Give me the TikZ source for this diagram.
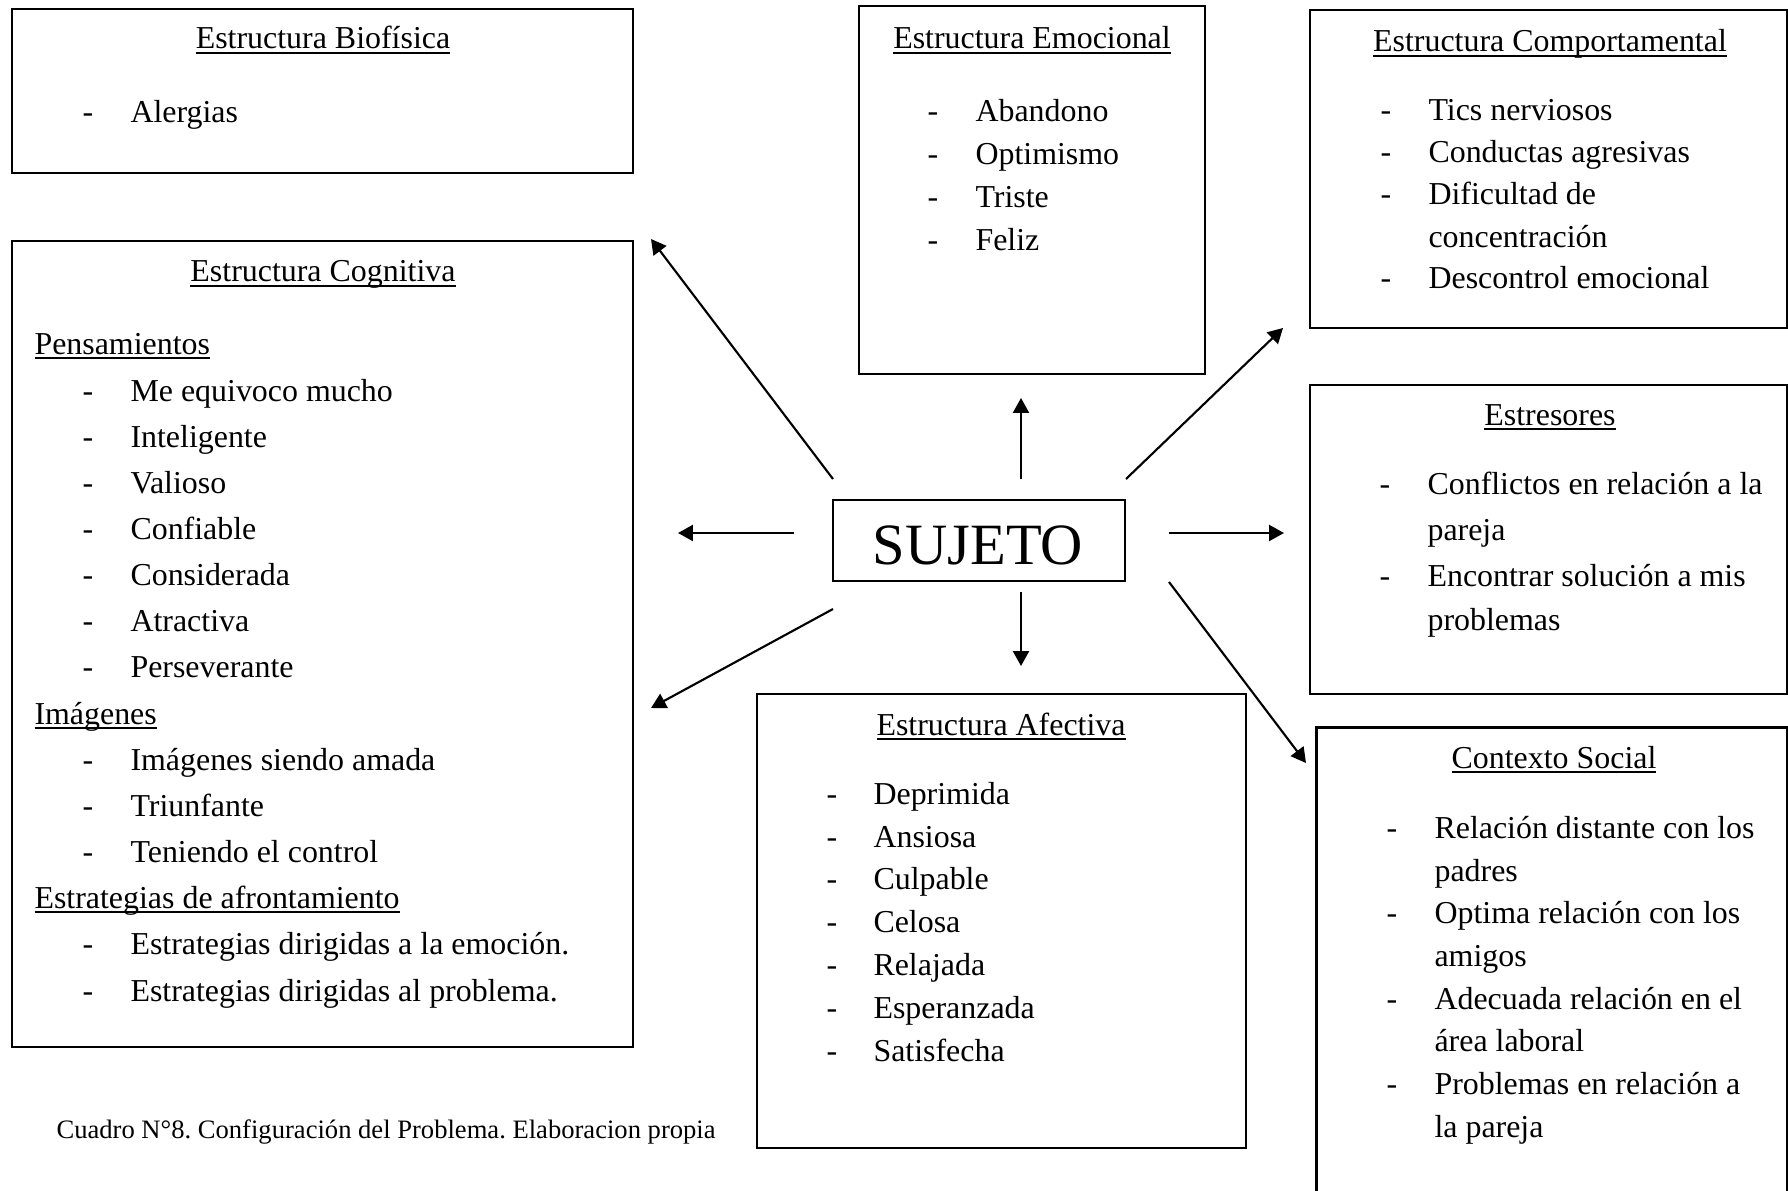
\documentclass[tikz,border=0pt]{standalone}
\usepackage{fontspec}
\setmainfont{Liberation Serif}
\usetikzlibrary{arrows.meta,fit}
\frenchspacing
\newcommand\myul[1]{\sbox0{#1}\rlap{\rule[-1.9pt]{\wd0}{0.6pt}}\usebox0}
\tikzset{
  box/.style={draw, line width=0.8pt, rectangle, inner sep=0pt},
  ghost/.style={rectangle, inner sep=0pt},
  head/.style={anchor=base, inner sep=0pt},
  itm/.style={anchor=base west, inner sep=0pt},
  arr/.style={-{Triangle[length=5.6pt,width=6pt]}, line width=0.8pt},
}
\begin{document}
\begin{tikzpicture}[x=0.376pt,y=-0.376pt,font=\fontsize{12}{14}\selectfont]
\useasboundingbox (0,0) rectangle (1788,1191);
\fill[white] (0,0) rectangle (1788,1191);

% ---------- boxes ----------
\node[box, fit={(12,9) (633,173)}] (bio) {};
\node[box, fit={(12,241) (633,1047)}] (cog) {};
\node[box, fit={(859,6) (1205,374)}] (emo) {};
\node[box, fit={(1310,10) (1787,328)}] (comp) {};
\node[box, fit={(1310,385) (1787,694)}] (estr) {};
\node[ghost, fit={(1317,728) (1787,1196)}] (ctx) {};
\draw[line width=0.8pt] (ctx.south west) -- (ctx.north west) -- (ctx.north east) -- (ctx.south east);
\node[box, fit={(757,694) (1246,1148)}] (afe) {};
\node[box, fit={(833,500) (1125,581)}] (suj) {};
\node[head, font=\fontsize{22}{26}\selectfont] (sujt) at (978,564) {SUJETO};

% ---------- Biofisica ----------
\node[head] (bioh) at (323,49) {\myul{Estructura Biofísica}};
\node[itm] (biod1) at (82,123) {-};
\node[itm] (bio1) at (130,123) {Alergias};

% ---------- Cognitiva ----------
\node[head] (cogh) at (323,282) {\myul{Estructura Cognitiva}};
\node[itm] (cogp) at (34,354) {\myul{Pensamientos}};
\node[itm] (cogd1) at (82,401) {-}; \node[itm] (cog1) at (130,401) {Me equivoco mucho};
\node[itm] (cogd2) at (82,447) {-}; \node[itm] (cog2) at (130,447) {Inteligente};
\node[itm] (cogd3) at (82,493) {-}; \node[itm] (cog3) at (130,493) {Valioso};
\node[itm] (cogd4) at (82,539) {-}; \node[itm] (cog4) at (130,539) {Confiable};
\node[itm] (cogd5) at (82,585) {-}; \node[itm] (cog5) at (130,585) {Considerada};
\node[itm] (cogd6) at (82,631) {-}; \node[itm] (cog6) at (130,631) {Atractiva};
\node[itm] (cogd7) at (82,677) {-}; \node[itm] (cog7) at (130,677) {Perseverante};
\node[itm] (cogi) at (34,724) {\myul{Imágenes}};
\node[itm] (cogd8) at (82,770) {-}; \node[itm] (cog8) at (130,770) {Imágenes siendo amada};
\node[itm] (cogd9) at (82,816) {-}; \node[itm] (cog9) at (130,816) {Triunfante};
\node[itm] (cogd10) at (82,862) {-}; \node[itm] (cog10) at (130,862) {Teniendo el control};
\node[itm] (coge) at (34,908) {\myul{Estrategias de afrontamiento}};
\node[itm] (cogd11) at (82,954) {-}; \node[itm] (cog11) at (130,954) {Estrategias dirigidas a la emoción.};
\node[itm] (cogd12) at (82,1001) {-}; \node[itm] (cog12) at (130,1001) {Estrategias dirigidas al problema.};

% ---------- Emocional ----------
\node[head] (emoh) at (1032,49) {\myul{Estructura Emocional}};
\node[itm] (emod1) at (927,122) {-}; \node[itm] (emo1) at (975,122) {Abandono};
\node[itm] (emod2) at (927,165) {-}; \node[itm] (emo2) at (975,165) {Optimismo};
\node[itm] (emod3) at (927,207) {-}; \node[itm] (emo3) at (975,207) {Triste};
\node[itm] (emod4) at (927,250) {-}; \node[itm] (emo4) at (975,250) {Feliz};

% ---------- Comportamental ----------
\node[head] (comph) at (1550,52) {\myul{Estructura Comportamental}};
\node[itm] (compd1) at (1380,121) {-}; \node[itm] (comp1) at (1428,121) {Tics nerviosos};
\node[itm] (compd2) at (1380,163) {-}; \node[itm] (comp2) at (1428,163) {Conductas agresivas};
\node[itm] (compd3) at (1380,205) {-}; \node[itm] (comp3) at (1428,205) {Dificultad de};
\node[itm] (comp3b) at (1428,247) {concentración};
\node[itm] (compd4) at (1380,289) {-}; \node[itm] (comp4) at (1428,289) {Descontrol emocional};

% ---------- Estresores ----------
\node[head] (estrh) at (1550,425) {\myul{Estresores}};
\node[itm] (estrd1) at (1379,494) {-}; \node[itm] (estr1) at (1427,494) {Conflictos en relación a la};
\node[itm] (estr1b) at (1427,540) {pareja};
\node[itm] (estrd2) at (1379,586) {-}; \node[itm] (estr2) at (1427,586) {Encontrar solución a mis};
\node[itm] (estr2b) at (1427,630) {problemas};

% ---------- Contexto Social ----------
\node[head] (ctxh) at (1554,768) {\myul{Contexto Social}};
\node[itm] (ctxd1) at (1386,838) {-}; \node[itm] (ctx1) at (1434,838) {Relación distante con los};
\node[itm] (ctx1b) at (1434,881) {padres};
\node[itm] (ctxd2) at (1386,923) {-}; \node[itm] (ctx2) at (1434,923) {Optima relación con los};
\node[itm] (ctx2b) at (1434,966) {amigos};
\node[itm] (ctxd3) at (1386,1009) {-}; \node[itm] (ctx3) at (1434,1009) {Adecuada relación en el};
\node[itm] (ctx3b) at (1434,1051) {área laboral};
\node[itm] (ctxd4) at (1386,1094) {-}; \node[itm] (ctx4) at (1434,1094) {Problemas en relación a};
\node[itm] (ctx4b) at (1434,1137) {la pareja};

% ---------- Afectiva ----------
\node[head] (afeh) at (1001,735) {\myul{Estructura Afectiva}};
\node[itm] (afed1) at (826,804) {-}; \node[itm] (afe1) at (873,804) {Deprimida};
\node[itm] (afed2) at (826,847) {-}; \node[itm] (afe2) at (873,847) {Ansiosa};
\node[itm] (afed3) at (826,889) {-}; \node[itm] (afe3) at (873,889) {Culpable};
\node[itm] (afed4) at (826,932) {-}; \node[itm] (afe4) at (873,932) {Celosa};
\node[itm] (afed5) at (826,975) {-}; \node[itm] (afe5) at (873,975) {Relajada};
\node[itm] (afed6) at (826,1018) {-}; \node[itm] (afe6) at (873,1018) {Esperanzada};
\node[itm] (afed7) at (826,1061) {-}; \node[itm] (afe7) at (873,1061) {Satisfecha};

% ---------- caption ----------
\node[itm, font=\fontsize{10}{12}\selectfont] (cap) at (56,1138) {Cuadro N°8. Configuración del Problema. Elaboracion propia};

% ---------- arrows ----------
\coordinate (upS) at (1021,479);  \coordinate (upE) at (1021,398);
\coordinate (dnS) at (1021,592);  \coordinate (dnE) at (1021,666);
\coordinate (lfS) at (794,533);   \coordinate (lfE) at (678,533);
\coordinate (rtS) at (1169,533);  \coordinate (rtE) at (1284,533);
\coordinate (ulS) at (833,479);   \coordinate (ulE) at (651,239);
\coordinate (urS) at (1126,479);  \coordinate (urE) at (1283,328);
\coordinate (llS) at (833,609);   \coordinate (llE) at (651,708);
\coordinate (lrS) at (1169,582);  \coordinate (lrE) at (1306,763);
\draw[arr] (upS) -- (upE);
\draw[arr] (dnS) -- (dnE);
\draw[arr] (lfS) -- (lfE);
\draw[arr] (rtS) -- (rtE);
\draw[arr] (ulS) -- (ulE);
\draw[arr] (urS) -- (urE);
\draw[arr] (llS) -- (llE);
\draw[arr] (lrS) -- (lrE);
\end{tikzpicture}
\end{document}
